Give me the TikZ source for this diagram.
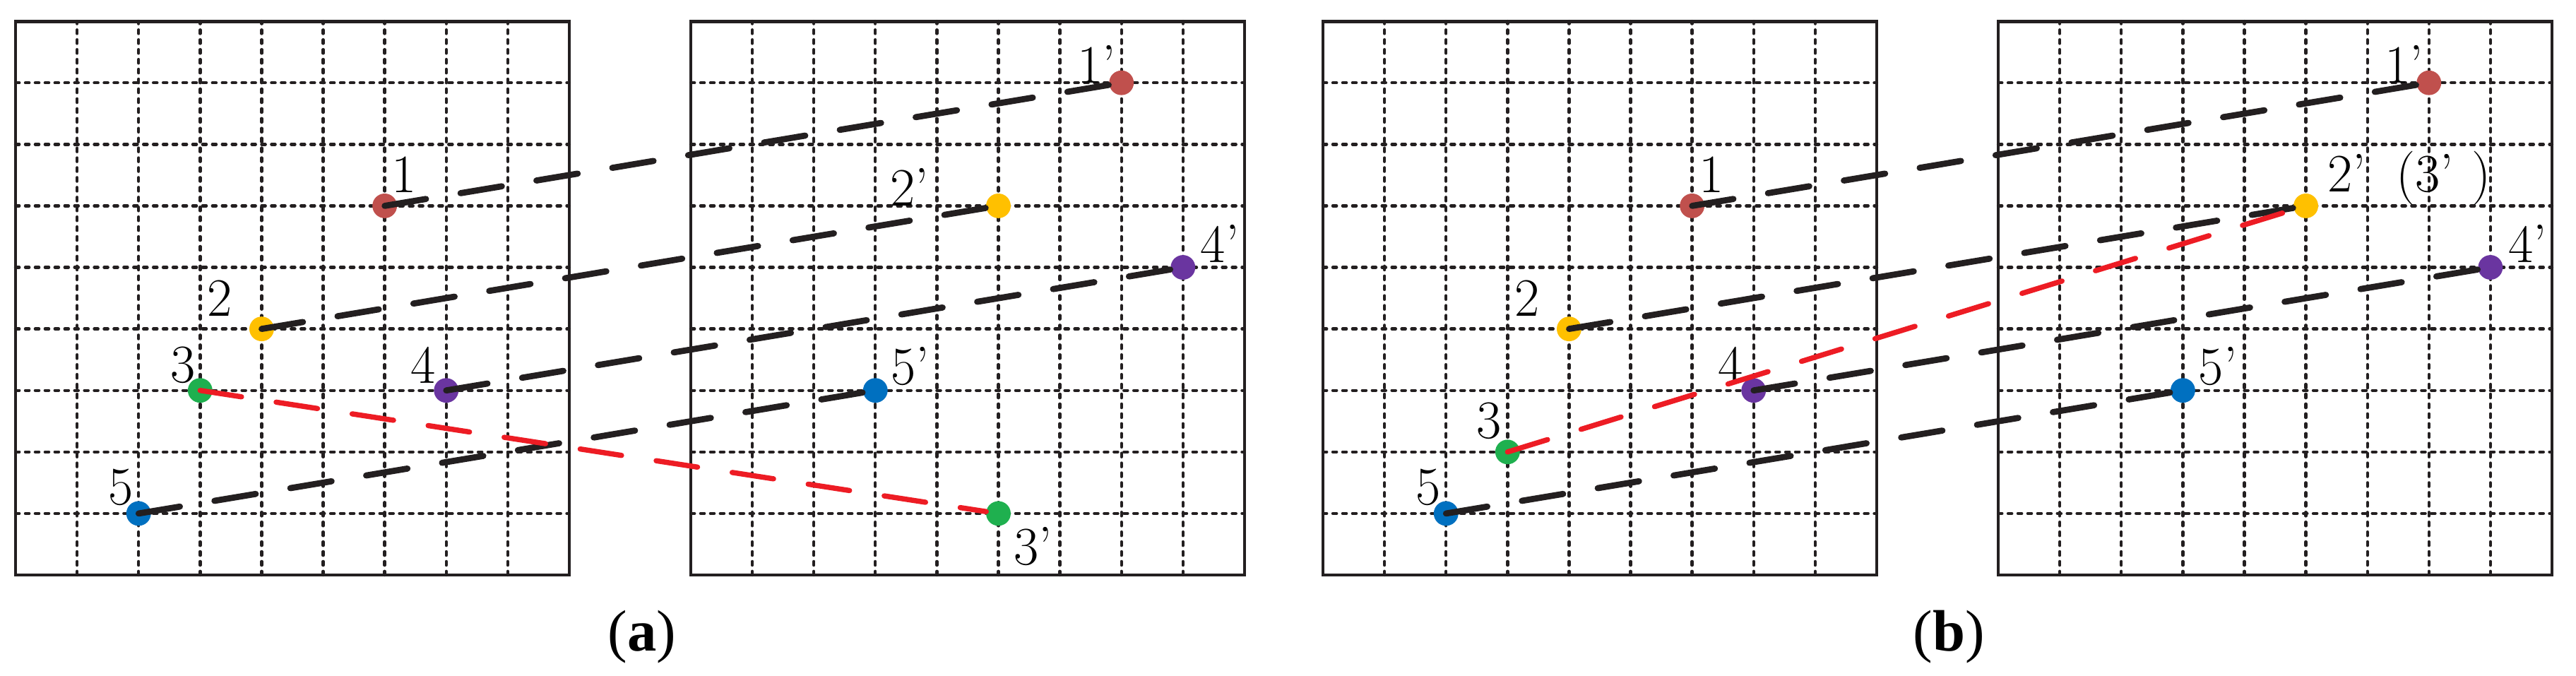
\documentclass[tikz,border=0pt]{standalone}
\usepackage{fontspec}
\newfontfamily\capfont{Liberation Serif}
\definecolor{cone}{HTML}{C0504D}
\definecolor{ctwo}{HTML}{FFC000}
\definecolor{cthree}{HTML}{1FB04F}
\definecolor{cfour}{HTML}{6A35A0}
\definecolor{cfive}{HTML}{0070C0}
\definecolor{redline}{HTML}{ED1C24}
\definecolor{blackline}{HTML}{231F20}
\tikzset{
  gridline/.style={line width=0.05cm, blackline, line cap=round, dash pattern=on 0.06cm off 0.1cm},
  boxline/.style={line width=0.055cm, blackline},
  dot/.style={circle, inner sep=0pt, minimum size=0.4cm, draw=none},
  lab/.style={inner sep=0pt, font=\fontsize{25}{28}\selectfont},
  matchline/.style={line width=0.1cm, blackline, line cap=round, dash pattern=on 0.68cm off 0.57cm},
  wrongline/.style={line width=0.085cm, redline, line cap=round, dash pattern=on 0.68cm off 0.57cm, shorten >=0.2cm},
  caption/.style={inner sep=0pt, font=\capfont\fontsize{27}{30}\selectfont}
}
\newcommand{\gridbox}{%
  \foreach \i in {1,...,8} {
    \draw[gridline] (\i,0) -- (\i,9);
    \draw[gridline] (0,\i) -- (9,\i);
  }
  \draw[boxline] (0,0) rectangle (9,9);
}
\begin{document}
\begin{tikzpicture}
\useasboundingbox (0,0) rectangle (41.871,10.976);
% ---------- panel (a), left grid
\begin{scope}[shift={(0.253,1.630)}]
  \gridbox
  \node[dot, fill=cone]   (A1) at (6,6) {};
  \node[dot, fill=ctwo]   (A2) at (4,4) {};
  \node[dot, fill=cthree] (A3) at (3,3) {};
  \node[dot, fill=cfour]  (A4) at (7,3) {};
  \node[dot, fill=cfive]  (A5) at (2,1) {};
  \node[lab] (lA1) at (6.32,6.51) {1};
  \node[lab] (lA2) at (3.32,4.50) {2};
  \node[lab] (lA3) at (2.72,3.41) {3};
  \node[lab] (lA4) at (6.62,3.41) {4};
  \node[lab] (lA5) at (1.71,1.42) {5};
\end{scope}
% ---------- panel (a), right grid
\begin{scope}[shift={(11.228,1.630)}]
  \gridbox
  \node[dot, fill=cone]   (A1p) at (7,8) {};
  \node[dot, fill=ctwo]   (A2p) at (5,6) {};
  \node[dot, fill=cthree] (A3p) at (5,1) {};
  \node[dot, fill=cfour]  (A4p) at (8,5) {};
  \node[dot, fill=cfive]  (A5p) at (3,3) {};
  \node[lab] (lA1p) at (6.60,8.30) {1’};
  \node[lab] (lA2p) at (3.55,6.30) {2’};
  \node[lab] (lA3p) at (5.56,0.46) {3’};
  \node[lab] (lA4p) at (8.60,5.39) {4’};
  \node[lab] (lA5p) at (3.57,3.39) {5’};
\end{scope}
% ---------- panel (b), left grid
\begin{scope}[shift={(21.504,1.630)}]
  \gridbox
  \node[dot, fill=cone]   (B1) at (6,6) {};
  \node[dot, fill=ctwo]   (B2) at (4,4) {};
  \node[dot, fill=cthree] (B3) at (3,2) {};
  \node[dot, fill=cfour]  (B4) at (7,3) {};
  \node[dot, fill=cfive]  (B5) at (2,1) {};
  \node[lab] (lB1) at (6.32,6.51) {1};
  \node[lab] (lB2) at (3.32,4.50) {2};
  \node[lab] (lB3) at (2.70,2.50) {3};
  \node[lab] (lB4) at (6.62,3.41) {4};
  \node[lab] (lB5) at (1.71,1.42) {5};
\end{scope}
% ---------- panel (b), right grid
\begin{scope}[shift={(32.48,1.630)}]
  \gridbox
  \node[dot, fill=cone]   (B1p) at (7,8) {};
  \node[dot, fill=ctwo]   (B2p) at (5,6) {};
  \node[dot, fill=cfour]  (B4p) at (8,5) {};
  \node[dot, fill=cfive]  (B5p) at (3,3) {};
  \node[lab] (lB1p) at (6.60,8.30) {1’};
  \node[lab, anchor=base west] (lB2p) at (5.35,6.23) {2’\hspace{0.55em}(3’\hspace{0.34em})};
  \node[lab] (lB4p) at (8.60,5.39) {4’};
  \node[lab] (lB5p) at (3.57,3.39) {5’};
\end{scope}
% ---------- correspondences (a)
\draw[matchline] (A1.center) -- (A1p.center);
\draw[matchline] (A2.center) -- (A2p.center);
\draw[matchline] (A4.center) -- (A4p.center);
\draw[matchline] (A5.center) -- (A5p.center);
\draw[wrongline] (A3.center) -- (A3p.center);
% ---------- correspondences (b)
\draw[matchline] (B1.center) -- (B1p.center);
\draw[matchline] (B2.center) -- (B2p.center);
\draw[matchline] (B4.center) -- (B4p.center);
\draw[matchline] (B5.center) -- (B5p.center);
\draw[wrongline] (B3.center) -- (B2p.center);
% ---------- captions
\node[caption] (capa) at (10.436,0.62) {(\textbf{a})};
\node[caption] (capb) at (31.676,0.62) {(\textbf{b})};
\end{tikzpicture}
\end{document}
